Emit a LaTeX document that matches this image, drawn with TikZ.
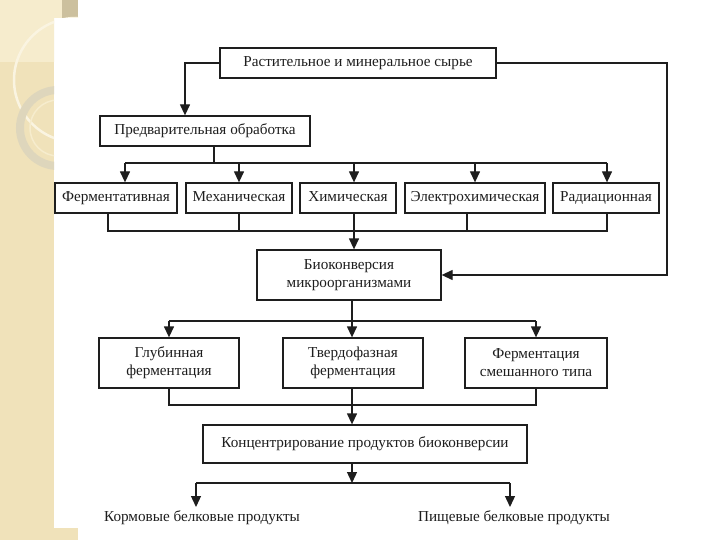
\documentclass[tikz,border=0pt]{standalone}
\usepackage{fontspec}
\setmainfont{Liberation Serif}
\usetikzlibrary{arrows.meta,calc}
\definecolor{beige}{RGB}{240,226,186}
\definecolor{beigelight}{RGB}{246,236,205}
\definecolor{ringgray}{RGB}{222,214,188}
\definecolor{ink}{RGB}{30,30,30}
\begin{document}
\begin{tikzpicture}[x=1pt,y=-1pt,
  box/.style={draw=ink,line width=1.3pt,fill=white,inner sep=0pt,align=center,
    font=\fontsize{15.2pt}{18pt}\selectfont,text=ink},
  oneline/.style={text height=10.5pt,text depth=3.5pt},
  lbl/.style={inner sep=0pt,font=\fontsize{15.2pt}{18pt}\selectfont,text=ink},
  ln/.style={draw=ink,line width=1.3pt},
  arr/.style={ln,-{Triangle[length=11pt,width=10pt]}}]
\useasboundingbox (0,0) rectangle (720,540);
% background
\fill[white] (0,0) rectangle (720,540);
\fill[beige] (0,0) rectangle (54,540);
\fill[beige] (0,0) rectangle (78,18);
\fill[beige] (0,528) rectangle (78,540);
\begin{scope}
  \clip (0,0) rectangle (54,540) (54,0) rectangle (78,18);
  \fill[beigelight] (0,0) rectangle (62,62);
  \fill[beige!85!black] (62,0) rectangle (78,18);
  \draw[beigelight!60!white,line width=2.5pt] (76,80) circle (62);
  \draw[ringgray,line width=8pt] (58,128) circle (38);
  \draw[beigelight,line width=1.5pt] (58,128) circle (28);
\end{scope}
% nodes
\node[box,oneline,minimum width=276pt,minimum height=30pt] (raw) at (358,63) {Растительное и минеральное сырье};
\node[box,oneline,minimum width=210pt,minimum height=30pt] (pre) at (205,131) {Предварительная обработка};
\node[box,oneline,minimum width=122pt,minimum height=30pt] (ferm) at (116,198) {Ферментативная};
\node[box,oneline,minimum width=106pt,minimum height=30pt] (mech) at (239,198) {Механическая};
\node[box,oneline,minimum width=96pt,minimum height=30pt] (chem) at (348,198) {Химическая};
\node[box,oneline,minimum width=140pt,minimum height=30pt] (elec) at (475,198) {Электрохимическая};
\node[box,oneline,minimum width=106pt,minimum height=30pt] (rad) at (606,198) {Радиационная};
\node[box,minimum width=184pt,minimum height=50pt] (bio) at (349,275) {Биоконверсия\\микроорганизмами};
\node[box,minimum width=140pt,minimum height=50pt] (deep) at (169,363) {Глубинная\\ферментация};
\node[box,minimum width=140pt,minimum height=50pt] (solid) at (353,363) {Твердофазная\\ферментация};
\node[box,minimum width=142pt,minimum height=50pt] (mixed) at (536,363) {Ферментация\\смешанного типа};
\node[box,oneline,minimum width=324pt,minimum height=38pt] (conc) at (365,444) {Концентрирование продуктов биоконверсии};
\node[lbl] (feed) at (202,518) {Кормовые белковые продукты};
\node[lbl] (food) at (514,518) {Пищевые белковые продукты};
% bus coordinates
\coordinate (b1) at (354,163);
\coordinate (b2) at (354,231);
\coordinate (b3) at (352,321);
\coordinate (b4) at (352,405);
\coordinate (b5) at (352,483);
\coordinate (fb) at (667,0);
% connectors
\draw[arr] (raw.west) -| ([xshift=-20pt]pre.north);
\draw[arr] (raw.east) -| (fb |- bio.east) -- (bio.east);
\draw[ln] ([xshift=9pt]pre.south) -- ([xshift=9pt]pre.south |- b1);
\draw[ln] ([xshift=9pt]ferm.north |- b1) -- ([xshift=1pt]rad.north |- b1);
\draw[arr] ([xshift=9pt]ferm.north |- b1) -- ([xshift=9pt]ferm.north);
\draw[arr] (mech.north |- b1) -- (mech.north);
\draw[arr] ([xshift=6pt]chem.north |- b1) -- ([xshift=6pt]chem.north);
\draw[arr] (elec.north |- b1) -- (elec.north);
\draw[arr] ([xshift=1pt]rad.north |- b1) -- ([xshift=1pt]rad.north);
\draw[ln] ([xshift=-8pt]ferm.south) |- ([xshift=1pt]rad.south |- b2) -- ([xshift=1pt]rad.south);
\draw[ln] (mech.south) -- (mech.south |- b2);
\draw[ln] ([xshift=-8pt]elec.south) -- ([xshift=-8pt]elec.south |- b2);
\draw[arr] ([xshift=6pt]chem.south) -- ([xshift=5pt]bio.north);
\draw[ln] ([xshift=3pt]bio.south) -- (b3);
\draw[ln] (deep.north |- b3) -- (mixed.north |- b3);
\draw[arr] (deep.north |- b3) -- (deep.north);
\draw[arr] (b3) -- (solid.north -| b3);
\draw[arr] (mixed.north |- b3) -- (mixed.north);
\draw[ln] (deep.south) |- (mixed.south |- b4) -- (mixed.south);
\draw[ln] (solid.south -| b4) -- (b4);
\draw[arr] (b4) -- (conc.north -| b4);
\draw[arr] (conc.south -| b5) -- (b5);
\draw[ln] (b5 -| 196,0) -- (b5 -| 510,0);
\draw[arr] (b5 -| 196,0) -- (196,507);
\draw[arr] (b5 -| 510,0) -- (510,507);
\end{tikzpicture}
\end{document}
